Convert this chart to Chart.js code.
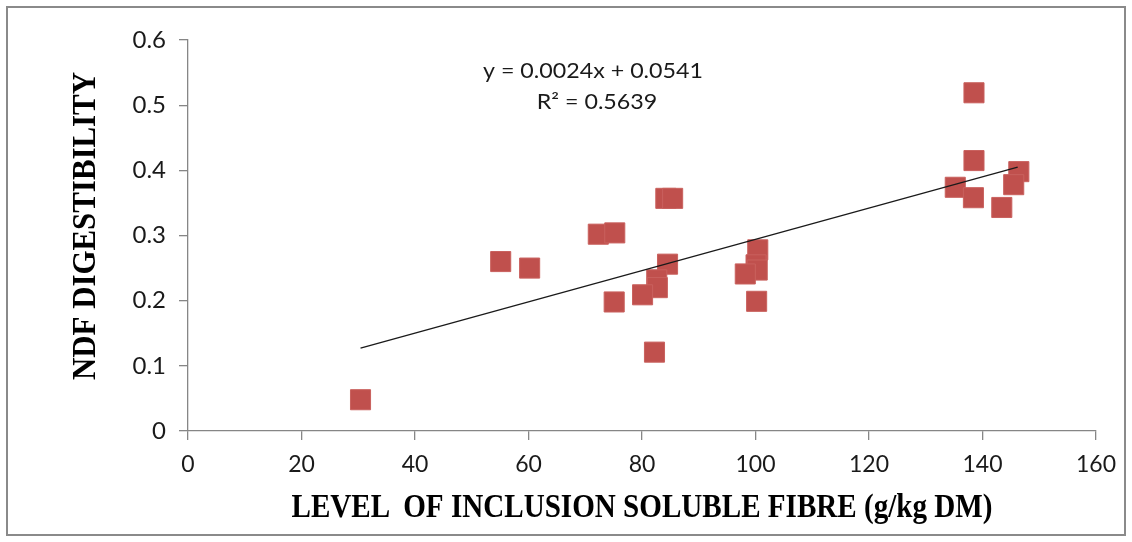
<!DOCTYPE html>
<html><head><meta charset="utf-8">
<script src="https://cdn.jsdelivr.net/npm/chart.js@4.4.1/dist/chart.umd.min.js"></script>
<style>html,body{margin:0;padding:0;background:#fff;overflow:hidden}#wrap{position:relative;width:1132px;height:542px}</style>
</head><body><div id="wrap"><canvas id="c" width="1132" height="542"></canvas></div>
<script>
// ---- data ----
const solubleFibre = [30.4, 55.1, 60.2, 72.3, 75.2, 84.2, 85.4, 84.5, 82.6, 82.7, 80.1, 75.1, 82.2,
  100.4, 100.1, 100.3, 98.2, 100.2, 138.5, 138.5, 135.2, 138.4, 146.4, 145.5, 143.4];
const ndfDigestibility = [0.048, 0.260, 0.250, 0.302, 0.304, 0.357, 0.357, 0.256, 0.232, 0.220, 0.209, 0.198, 0.121,
  0.278, 0.255, 0.247, 0.241, 0.199, 0.519, 0.415, 0.374, 0.358, 0.398, 0.378, 0.343];
const trendX = [30.4, 146.2];
const trendY = [0.127, 0.405];
const xTicks = [0, 20, 40, 60, 80, 100, 120, 140, 160];
const yTicks = [0, 0.1, 0.2, 0.3, 0.4, 0.5, 0.6];
const xTitle = 'LEVEL \u2009OF INCLUSION SOLUBLE FIBRE (g/kg DM)';
const yTitle = 'NDF DIGESTIBILITY';
const eqLine1 = 'y = 0.0024x + 0.0541';
const eqLine2 = 'R\u00B2 = 0.5639';

const axisGray = '#868686';
const tickFont = 'Lato';

const scatterData = solubleFibre.map((x, i) => ({x: x, y: ndfDigestibility[i]}));
const trendData = trendX.map((x, i) => ({x: x, y: trendY[i]}));

const textPlugin = {
  id: 'texts',
  beforeDraw(chart) {
    const ctx = chart.ctx;
    ctx.save();
    ctx.fillStyle = '#fff';
    ctx.fillRect(0, 0, chart.width, chart.height);
    ctx.strokeStyle = '#8a8a8a';
    ctx.lineWidth = 2;
    ctx.strokeRect(7, 7, 1118, 528);
    ctx.restore();
  },
  afterDraw(chart) {
    const ctx = chart.ctx;
    const titleFont = 'bold 33px "Liberation Serif"';
    ctx.save();
    ctx.font = titleFont;
    ctx.fillStyle = '#000';
    ctx.textAlign = 'center';
    ctx.textBaseline = 'alphabetic';
    // x title
    let w = ctx.measureText(xTitle).width;
    ctx.save(); ctx.translate(642, 517); ctx.scale(701 / w, 1); ctx.fillText(xTitle, 0, 0); ctx.restore();
    // y title (rotated)
    w = ctx.measureText(yTitle).width;
    ctx.save(); ctx.translate(95, 226); ctx.rotate(-Math.PI / 2); ctx.scale(308 / w, 1); ctx.fillText(yTitle, 0, 0); ctx.restore();
    ctx.restore();
    // equation
    ctx.save();
    ctx.font = '21px ' + tickFont;
    const sx = 220 / ctx.measureText(eqLine1).width;
    ctx.fillStyle = '#1a1a1a';
    ctx.textAlign = 'center';
    ctx.textBaseline = 'alphabetic';
    ctx.save(); ctx.translate(593, 78); ctx.scale(sx, 1); ctx.fillText(eqLine1, 0, 0); ctx.restore();
    ctx.save(); ctx.translate(597, 109); ctx.scale(sx, 1); ctx.fillText(eqLine2, 0, 0); ctx.restore();
    ctx.restore();
  }
};

new Chart(document.getElementById('c'), {
  type: 'scatter',
  data: {
    datasets: [
      {
        type: 'line',
        label: 'Trend',
        data: trendData,
        borderColor: '#1a1a1a',
        borderWidth: 1.3,
        pointRadius: 0,
        fill: false,
        order: 0
      },
      {
        label: 'NDF digestibility',
        data: scatterData,
        pointStyle: 'rect',
        pointRadius: 14.2,
        pointHoverRadius: 14.2,
        backgroundColor: '#C0504D',
        borderColor: '#C9615E',
        borderWidth: 1,
        order: 1
      }
    ]
  },
  options: {
    responsive: false,
    animation: false,
    devicePixelRatio: 1,
    layout: {padding: {left: 0, right: 36, top: 40, bottom: 0}},
    plugins: {legend: {display: false}, tooltip: {enabled: false}},
    scales: {
      x: {
        type: 'linear', min: 0, max: 160,
        afterBuildTicks: s => { s.ticks = xTicks.map(v => ({value: v})); },
        afterFit: s => { s.height = 111; },
        ticks: {font: {family: tickFont, size: 23}, color: '#1a1a1a', padding: 11, maxRotation: 0},
        grid: {display: true, drawOnChartArea: false, drawTicks: true, tickLength: 9, color: axisGray, lineWidth: 1.3},
        border: {display: true, color: axisGray, width: 1.3}
      },
      y: {
        type: 'linear', min: 0, max: 0.6,
        afterBuildTicks: s => { s.ticks = yTicks.map(v => ({value: v})); },
        afterFit: s => { s.width = 188; },
        ticks: {font: {family: tickFont, size: 24}, color: '#1a1a1a', padding: 13,
          callback: v => String(Math.round(v * 10) / 10)},
        grid: {display: true, drawOnChartArea: false, drawTicks: true, tickLength: 9, color: axisGray, lineWidth: 1.3},
        border: {display: true, color: axisGray, width: 1.3}
      }
    }
  },
  plugins: [textPlugin]
});
</script>
</body></html>
